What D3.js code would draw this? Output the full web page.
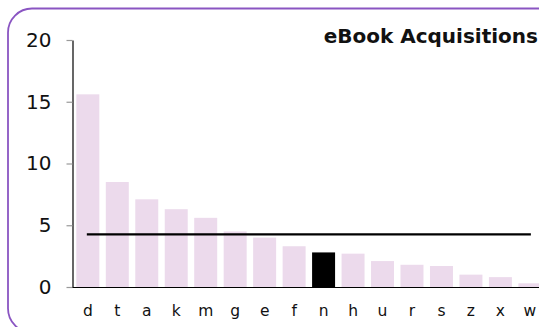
<!DOCTYPE html>
<html>
<head>
<meta charset="utf-8">
<script src="https://cdn.jsdelivr.net/npm/d3@7/dist/d3.min.js"></script>
<style>
  html, body { margin: 0; padding: 0; background: #fff; overflow: hidden; }
  svg { display: block; }
</style>
</head>
<body>
<svg id="chart" width="539" height="327"></svg>
<script>
// Library codes and their eBook acquisition counts
const categories = ["d", "t", "a", "k", "m", "g", "e", "f", "n", "h", "u", "r", "s", "z", "x", "w"];
const values = [15.6, 8.5, 7.1, 6.3, 5.6, 4.5, 4.0, 3.3, 2.8, 2.7, 2.1, 1.8, 1.7, 1.0, 0.8, 0.3];
const highlighted = ["n"];
const yTicks = [0, 5, 10, 15, 20];
const title = "eBook Acquisitions";

const svg = d3.select("#chart");
const font = "Verdana, 'DejaVu Sans', sans-serif";

// Rounded frame around the panel (continues past the right and bottom edges)
svg.append("rect")
  .attr("x", 8).attr("y", 8.5)
  .attr("width", 580).attr("height", 324)
  .attr("rx", 24).attr("ry", 24)
  .attr("fill", "none")
  .attr("stroke", "#8a55c2")
  .attr("stroke-width", 1.8);

const x = d3.scaleBand()
  .domain(categories)
  .range([72.5, 545.2])
  .paddingInner(0.22)
  .paddingOuter(0.13);

const y = d3.scaleLinear()
  .domain([0, 20])
  .range([287, 40]);

// Bars
svg.append("g")
  .selectAll("rect")
  .data(categories.map((c, i) => ({ c, v: values[i] })))
  .join("rect")
  .attr("x", d => x(d.c))
  .attr("width", x.bandwidth())
  .attr("y", d => y(d.v))
  .attr("height", d => y(0) - y(d.v))
  .attr("fill", d => highlighted.includes(d.c) ? "#000" : "#ecdaec");

// Y axis
const yAxis = svg.append("g")
  .attr("transform", "translate(72.5,0)")
  .call(d3.axisLeft(y).tickValues(yTicks).tickSize(6).tickPadding(15).tickSizeOuter(0));
yAxis.select(".domain").attr("stroke", "#000").attr("stroke-width", 1.2);
yAxis.selectAll(".tick line").attr("stroke", "#999").attr("stroke-width", 1.2);
yAxis.selectAll(".tick text")
  .attr("font-family", font)
  .attr("font-size", 20)
  .attr("fill", "#111");

// X axis
const xAxis = svg.append("g")
  .attr("transform", "translate(0,287)")
  .call(d3.axisBottom(x).tickSize(0).tickPadding(18));
xAxis.select(".domain").attr("d", "M72.5,0.5H545").attr("stroke", "#000").attr("stroke-width", 1.2);
xAxis.selectAll(".tick text")
  .attr("font-family", font)
  .attr("font-size", 15.5)
  .attr("fill", "#111");

// Average reference line across the bar centres
const avg = d3.mean(values);
const first = categories[0], last = categories[categories.length - 1];
svg.append("line")
  .attr("x1", x(first) + x.bandwidth() / 2 - 1)
  .attr("x2", x(last) + x.bandwidth() / 2 + 1)
  .attr("y1", y(avg)).attr("y2", y(avg))
  .attr("stroke", "#000")
  .attr("stroke-width", 2.2);

// Title
svg.append("text")
  .attr("x", 538).attr("y", 42.5)
  .attr("text-anchor", "end")
  .attr("font-family", font)
  .attr("font-weight", "bold")
  .attr("font-size", 20)
  .attr("fill", "#111")
  .text(title);
</script>
</body>
</html>
